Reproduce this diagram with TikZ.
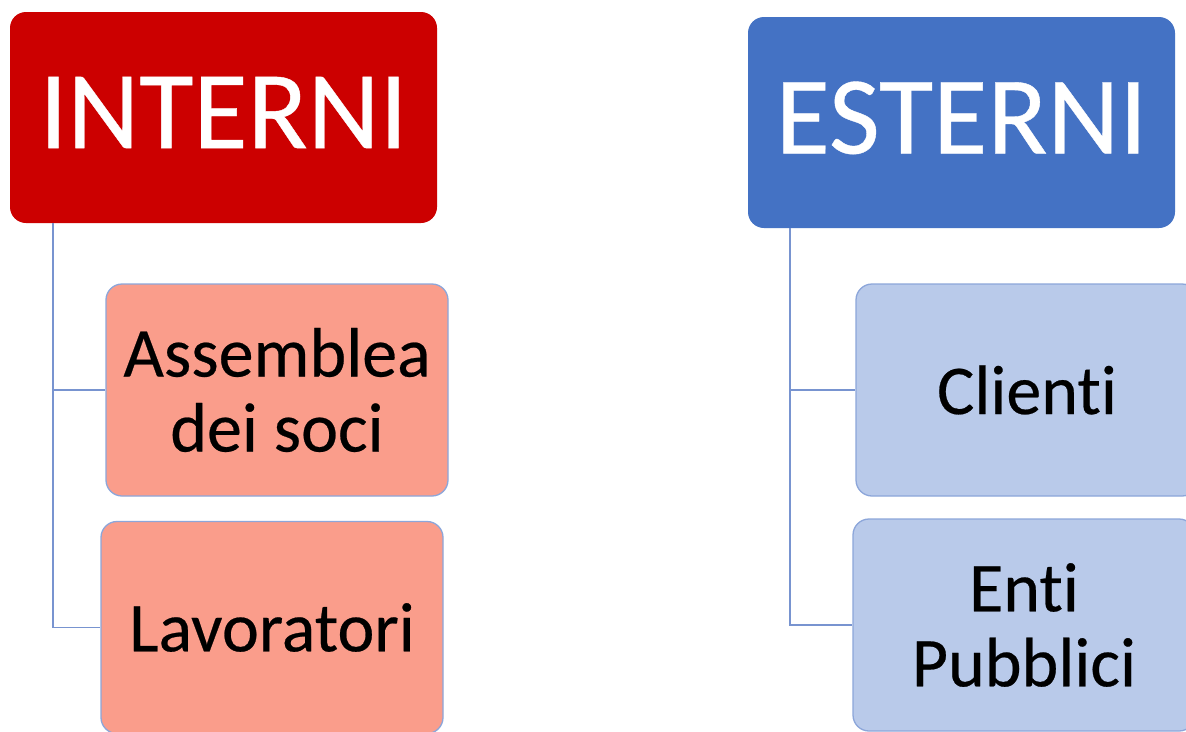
\documentclass[tikz,border=0pt]{standalone}
\usepackage{fontspec}
\setmainfont{Carlito}[Ligatures=NoCommon, FakeBold=0.35]
\usetikzlibrary{calc}
\definecolor{hdrred}{RGB}{204,0,0}
\definecolor{hdrblue}{RGB}{68,114,196}
\definecolor{salmon}{RGB}{250,157,139}
\definecolor{lightblue}{RGB}{185,202,234}
\definecolor{edgeblue}{RGB}{140,166,218}
\definecolor{connblue}{RGB}{120,148,208}
\begin{document}
\begin{tikzpicture}[x=1pt,y=-1pt,
  header/.style={rectangle, rounded corners=16pt, minimum width=427pt, minimum height=211pt,
    text=white, inner sep=0pt, font=\fontsize{111}{120}\selectfont, text depth=10pt},
  child/.style={rectangle, rounded corners=16pt, draw=edgeblue, line width=1.3pt,
    minimum width=342pt, minimum height=212pt, inner sep=0pt, align=center,
    font=\fontsize{70}{75}\selectfont},
  conn/.style={draw=connblue, line width=1.6pt}]
\useasboundingbox (0,0) rectangle (1186,731);
\clip (0,0) rectangle (1186,731);
\fill[white] (0,0) rectangle (1186,731);
% headers
\node[header, fill=hdrred] (int) at (223.5,117.5) {INTERNI};
\node[header, fill=hdrblue] (est) at (961.5,122.5) {ESTERNI};
% children
\node[child, fill=salmon] (ass) at (277,390) {Assemblea\\dei soci};
\node[child, fill=salmon] (lav) at (272,627.5) {Lavoratori};
\node[child, fill=lightblue] (cli) at (1027,390) {Clienti};
\node[child, fill=lightblue] (ent) at (1024,625) {Enti\\Pubblici};
% connectors
\coordinate (intTrunk) at ($(int.south west)+(43,0)$);
\coordinate (estTrunk) at ($(est.south west)+(42,0)$);
\draw[conn] (intTrunk) |- (ass.west);
\draw[conn] (intTrunk) |- (lav.west);
\draw[conn] (estTrunk) |- (cli.west);
\draw[conn] (estTrunk) |- (ent.west);
\end{tikzpicture}
\end{document}
